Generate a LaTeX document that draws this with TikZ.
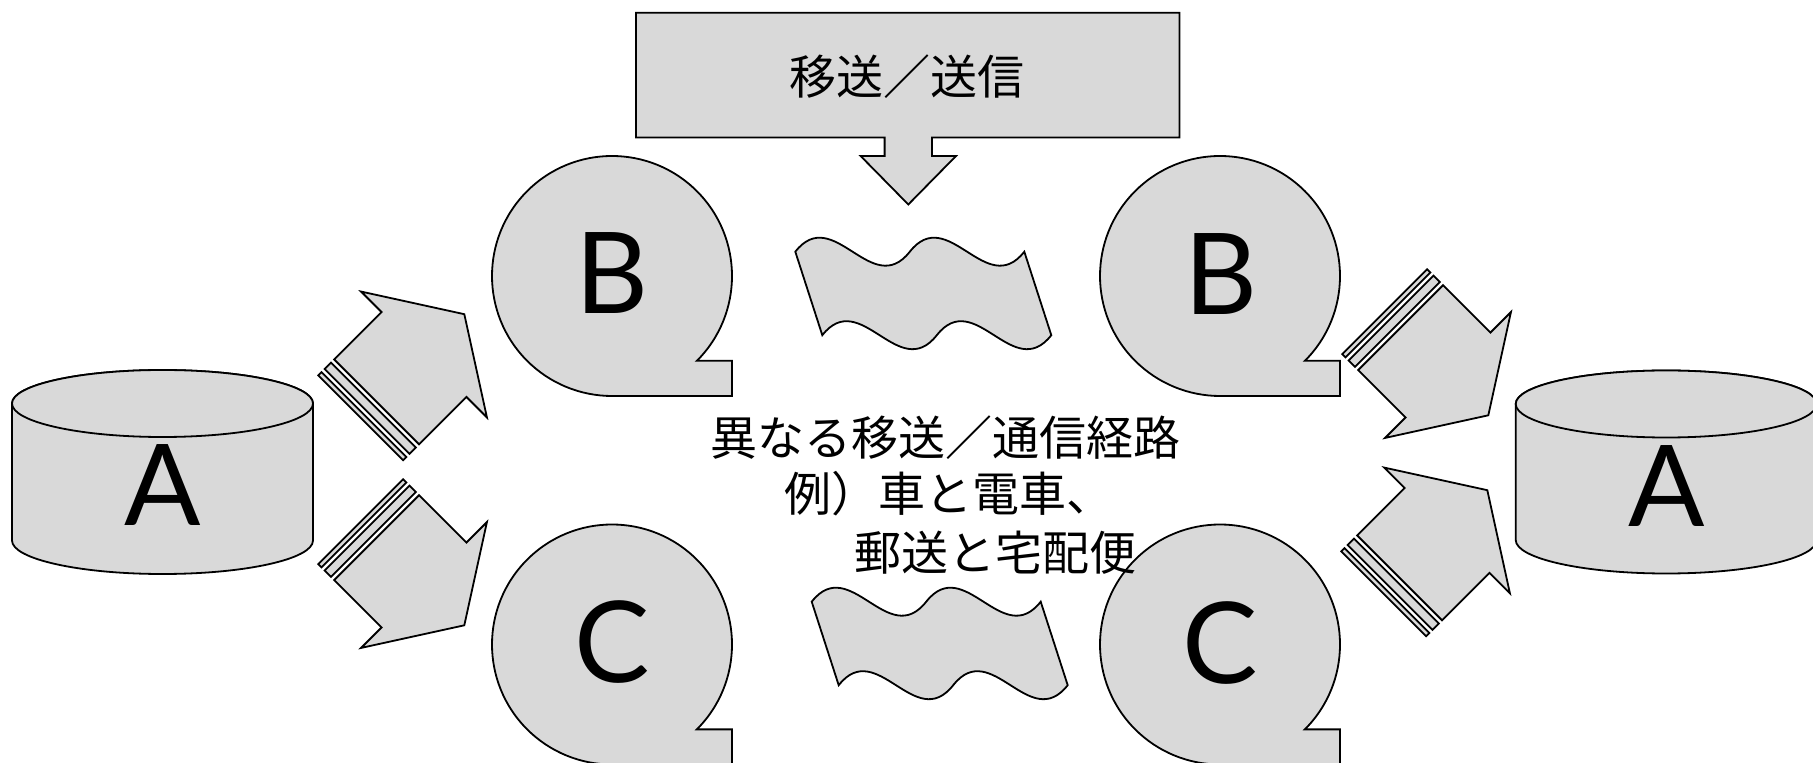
\documentclass[tikz,border=0pt]{standalone}
\usepackage{fontspec}
\setmainfont{Lato}
\newfontfamily\cjk{Noto Sans CJK JP}
\definecolor{fillg}{RGB}{217,217,217}
\begin{document}
\begin{tikzpicture}[x=0.5pt,y=-0.5pt,
  shp/.style={draw=black, fill=fillg, line width=0.9pt, line join=miter},
  big/.style={font=\fontsize{56.5}{60}\selectfont, inner sep=0pt},
  jp/.style={font=\cjk\fontsize{23.5}{28}\selectfont, inner sep=0pt}]
\useasboundingbox (0,0) rectangle (1813,763);
% striped arrows
\foreach \ox/\oy/\rot in {424/354.5/45, 424/585/-45, 1448/375/-45, 1447/530.5/45} {
  \begin{scope}[shift={(\ox,\oy)}, rotate=\rot]
    \draw[shp] (-67,-60) -- (0,-60) -- (0,-89) -- (57,0) -- (0,89) -- (0,60) -- (-67,60) -- cycle;
    \draw[shp] (-80.5,-60) rectangle (-71.5,60);
    \draw[shp] (-89.5,-60) rectangle (-85,60);
  \end{scope}
}
% tape bubbles
\foreach \cx/\cy in {612/276, 1220/276, 612/644.5, 1220/644.5} {
  \begin{scope}[shift={(\cx,\cy)}]
    \draw[shp] (84.85,84.85) arc[start angle=45, end angle=-270, radius=120] -- (120,120) -- (120,84.85) -- cycle;
  \end{scope}
}
% cylinders
\foreach \cx/\cy/\h in {162.5/403.5/137, 1666.2/404/136} {
  \begin{scope}[shift={(\cx,\cy)}]
    \draw[shp] (-150.5,0) -- (-150.5,\h) arc[start angle=180, end angle=0, x radius=150.5, y radius=33.5] -- (150.5,0) arc[start angle=0, end angle=-180, x radius=150.5, y radius=33.5] -- cycle;
    \draw[shp] (0,0) ellipse [x radius=150.5, y radius=33.5];
  \end{scope}
}
% callout box
\draw[shp] (636,12.7) -- (1179.5,12.7) -- (1179.5,137.5) -- (932,137.5) -- (932,156) -- (956,156) -- (908.3,204.5) -- (860.6,156) -- (884.6,156) -- (884.6,137.5) -- (636,137.5) -- cycle;
% wave flags
\foreach \fx/\fy in {795.3/251.7, 811.7/601.7} {
  \begin{scope}[shift={(\fx,\fy)}]
    \draw[shp] (0,0) .. controls (38.2,-48.5) and (76.3,48.5) .. (114.5,0)
      .. controls (152.7,-48.5) and (190.8,48.5) .. (229,0)
      -- (256,83.5) .. controls (217.8,132) and (179.7,35) .. (141.5,83.5)
      .. controls (103.3,132) and (65.2,35) .. (27,83.5) -- cycle;
  \end{scope}
}
% texts
\node[big, anchor=base] (a1) at (162.7,526) {A};
\node[big, anchor=base] (a2) at (1666.3,526.5) {A};
\node[big, anchor=base] (b1) at (612,314) {B};
\node[big, anchor=base] (b2) at (1221,315) {B};
\node[big, anchor=base] (c1) at (612,682) {C};
\node[big, anchor=base] (c2) at (1220.3,683) {C};
\node[jp] (title) at (906.5,77) {移送／送信};
\node[jp, anchor=west] (l1) at (710.4,438) {異なる移送／通信経路};
\node[jp, anchor=west] (l2) at (784.5,494) {例）車と電車、};
\node[jp, anchor=west] (l3) at (854.5,552.5) {郵送と宅配便};
\end{tikzpicture}
\end{document}
